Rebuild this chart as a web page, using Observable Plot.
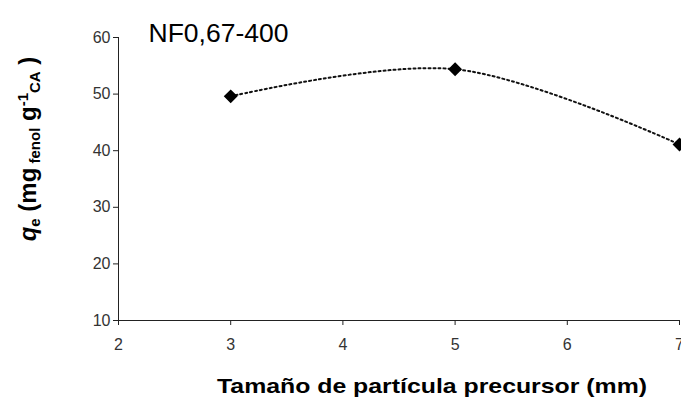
<!DOCTYPE html>
<html>
<head>
<meta charset="utf-8">
<script src="https://cdn.jsdelivr.net/npm/d3@7"></script>
<script src="https://cdn.jsdelivr.net/npm/@observablehq/plot@0.6"></script>
<style>
  html, body { margin: 0; padding: 0; background: #fff; }
  svg { display: block; }
</style>
</head>
<body>
<div id="chart"></div>
<script>
const sizes = [3, 5, 7];
const qeValues = [49.6, 54.4, 41.1];
const xTicks = [2, 3, 4, 5, 6, 7];
const yTicks = [10, 20, 30, 40, 50, 60];
const chartTitle = "NF0,67-400";
const xTitle = "Tamaño de partícula precursor (mm)";

const data = sizes.map((s, i) => ({size: s, qe: qeValues[i]}));

const plot = Plot.plot({
  width: 681,
  height: 400,
  marginLeft: 118,
  marginRight: 2,
  marginTop: 37,
  marginBottom: 80,
  style: {fontFamily: "Arial, 'Liberation Sans', sans-serif", fontSize: "16px", background: "#fff"},
  x: {domain: [2, 7]},
  y: {domain: [10, 60]},
  marks: [
    Plot.axisX({ticks: xTicks, tickSize: 5, tickPadding: 13, tickFormat: d => String(d), fill: "#333", stroke: "#222", label: null}),
    Plot.axisY({ticks: yTicks, tickSize: 5, tickPadding: 3, tickFormat: d => String(d), fill: "#333", stroke: "#222", label: null}),
    Plot.ruleX([2], {stroke: "#222", strokeWidth: 1}),
    Plot.ruleY([10], {stroke: "#222", strokeWidth: 1}),
    Plot.line(data, {x: "size", y: "qe", curve: "catmull-rom", stroke: "#111", strokeWidth: 2, strokeDasharray: "2,3"}),
    Plot.dot(data, {x: "size", y: "qe", symbol: "diamond2", r: 5.3, fill: "#000", stroke: "#000"}),
    Plot.text([chartTitle], {frameAnchor: "top-left", dx: 30, dy: -14, textAnchor: "start", fontSize: 26.5, fill: "#000"})
  ]
});

const svg = d3.select(plot);

// x-axis title (stretched to the reference's width)
svg.append("text")
  .attr("x", 432)
  .attr("y", 393)
  .attr("text-anchor", "middle")
  .attr("font-family", "Arial, 'Liberation Sans', sans-serif")
  .attr("font-weight", "bold")
  .attr("font-size", 21)
  .attr("textLength", 430)
  .attr("lengthAdjust", "spacingAndGlyphs")
  .attr("fill", "#000")
  .text(xTitle);

// y-axis title with subscripts/superscripts
const t = svg.append("text")
  .attr("transform", "translate(36,149) rotate(-90)")
  .attr("text-anchor", "middle")
  .attr("font-family", "Arial, 'Liberation Sans', sans-serif")
  .attr("font-weight", "bold")
  .attr("font-size", 24)
  .attr("fill", "#000");
t.append("tspan").attr("font-style", "italic").text("q");
t.append("tspan").attr("font-size", 15).attr("dy", 4).text("e");
t.append("tspan").attr("dy", -4).text(" (mg");
t.append("tspan").attr("font-size", 15).attr("dy", 4).text(" fenol");
t.append("tspan").attr("dy", -4).text(" g");
t.append("tspan").attr("font-size", 15).attr("dy", -8).text("-1");
t.append("tspan").attr("font-size", 15).attr("dy", 12).text("CA");
t.append("tspan").attr("dy", -4).text(" )");

document.getElementById("chart").appendChild(plot);
</script>
</body>
</html>
